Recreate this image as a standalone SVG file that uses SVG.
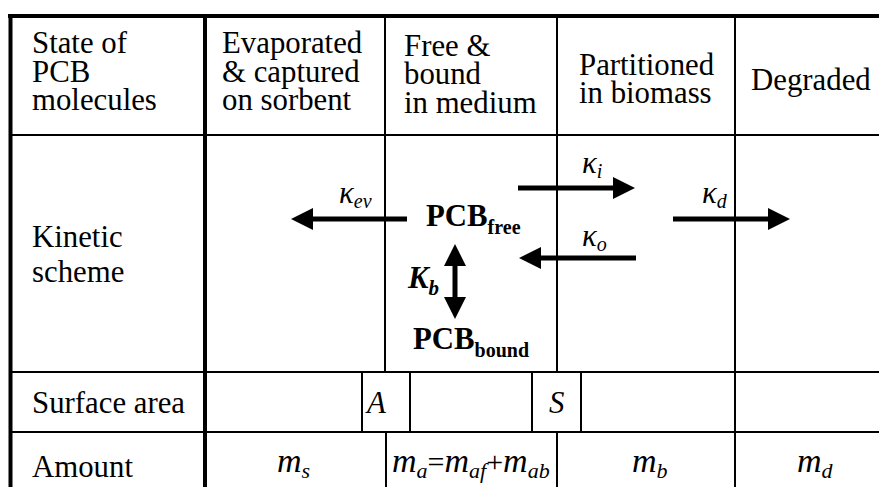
<svg xmlns="http://www.w3.org/2000/svg" width="879" height="487" viewBox="0 0 879 487">
<style>
  text { font-family: "Liberation Serif", "Times New Roman", Times, serif; fill: #000; }
  .t { font-size: 30.8px; }
  .it { font-style: italic; }
  .bd { font-weight: bold; }
  .thin { stroke: #000; stroke-width: 2; fill: none; }
  .thick { stroke: #000; stroke-width: 4; fill: none; }
  .arrow { stroke: #000; stroke-width: 5; fill: none; }
</style>
<defs>
  <marker id="head" viewBox="0 0 22 22" refX="0" refY="11" markerWidth="22" markerHeight="22" markerUnits="userSpaceOnUse" orient="auto-start-reverse">
    <path d="M0,0 L22,11 L0,22 Z" fill="#000"/>
  </marker>
</defs>
<rect width="879" height="487" fill="#fff"/>

<g id="grid">
  <line class="thick" x1="8" y1="16" x2="879" y2="16"/>
  <line class="thick" x1="10.5" y1="14" x2="10.5" y2="487"/>
  <line class="thick" x1="205" y1="14" x2="205" y2="487"/>
  <line class="thin" x1="10" y1="135" x2="879" y2="135"/>
  <line class="thin" x1="10" y1="372" x2="879" y2="372"/>
  <line class="thin" x1="10" y1="432" x2="879" y2="432"/>
  <line class="thin" x1="385" y1="16" x2="385" y2="372"/>
  <line class="thin" x1="557" y1="16" x2="557" y2="372"/>
  <line class="thin" x1="735" y1="16" x2="735" y2="487"/>
  <line class="thin" x1="362" y1="372" x2="362" y2="432"/>
  <line class="thin" x1="410" y1="372" x2="410" y2="432"/>
  <line class="thin" x1="532" y1="372" x2="532" y2="432"/>
  <line class="thin" x1="581" y1="372" x2="581" y2="432"/>
  <line class="thin" x1="386" y1="432" x2="386" y2="487"/>
  <line class="thin" x1="557" y1="432" x2="557" y2="487"/>
</g>

<g id="header">
  <text class="t" x="32" y="53">State of</text>
  <text class="t" x="32" y="82">PCB</text>
  <text class="t" x="32" y="110">molecules</text>
  <text class="t" x="222" y="53">Evaporated</text>
  <text class="t" x="222" y="82">&amp; captured</text>
  <text class="t" x="222" y="110">on sorbent</text>
  <text class="t" x="404" y="56">Free &amp;</text>
  <text class="t" x="404" y="84">bound</text>
  <text class="t" x="404" y="113">in medium</text>
  <text class="t" x="579" y="75">Partitioned</text>
  <text class="t" x="579" y="103">in biomass</text>
  <text class="t" x="751" y="90">Degraded</text>
</g>

<g id="row-labels">
  <text class="t" x="32" y="247">Kinetic</text>
  <text class="t" x="32" y="282">scheme</text>
  <text class="t" x="32" y="413">Surface area</text>
  <text class="t" x="32" y="477">Amount</text>
</g>

<g id="pcb-free">
  <text class="t bd" x="426" y="226">PCB<tspan font-size="20" dy="8">free</tspan></text>
</g>
<g id="pcb-bound">
  <text class="t bd" x="413" y="349">PCB<tspan font-size="20" dy="8">bound</tspan></text>
</g>

<g id="connectors">
  <line class="arrow" x1="407" y1="219" x2="313" y2="219" marker-end="url(#head)"/>
  <line class="arrow" x1="518" y1="188" x2="613" y2="188" marker-end="url(#head)"/>
  <line class="arrow" x1="636" y1="258" x2="541" y2="258" marker-end="url(#head)"/>
  <line class="arrow" x1="673" y1="219" x2="768" y2="219" marker-end="url(#head)"/>
  <line class="arrow" x1="455" y1="266" x2="455" y2="297" marker-start="url(#head)" marker-end="url(#head)"/>
  <text class="t it" x="339" y="203">κ<tspan font-size="20" dy="5">ev</tspan></text>
  <text class="t it" x="582" y="173">κ<tspan font-size="20" dy="5">i</tspan></text>
  <text class="t it" x="582" y="246">κ<tspan font-size="20" dy="5">o</tspan></text>
  <text class="t it" x="702" y="203">κ<tspan font-size="20" dy="5">d</tspan></text>
  <text class="t it bd" x="408" y="288">K<tspan font-size="21" dy="7">b</tspan></text>
</g>

<g id="surface">
  <text class="t it" x="367" y="413">A</text>
  <text class="t it" x="549" y="413">S</text>
</g>

<g id="amounts">
  <text class="it" font-size="34" x="277" y="472">m<tspan font-size="22" dy="6">s</tspan></text>
  <text class="it" font-size="34" x="392" y="472">m<tspan font-size="22" dy="6">a</tspan><tspan font-style="normal" font-size="30" dy="-6">=</tspan>m<tspan font-size="22" dy="6">af</tspan><tspan font-style="normal" font-size="30" dy="-6">+</tspan>m<tspan font-size="22" dy="6">ab</tspan></text>
  <text class="it" font-size="34" x="632" y="472">m<tspan font-size="22" dy="6">b</tspan></text>
  <text class="it" font-size="34" x="797" y="472">m<tspan font-size="22" dy="6">d</tspan></text>
</g>
</svg>
